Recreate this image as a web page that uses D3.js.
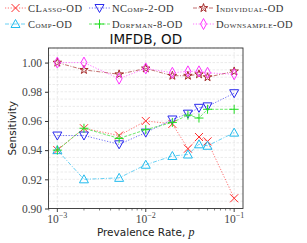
<!DOCTYPE html>
<meta charset="utf-8">
<style>
body { margin: 0; background: #fff; }
.grid line { stroke: #ddd; stroke-width: 0.6; stroke-dasharray: 2.5,1.5; }
.axis text { font-family: "Liberation Serif", serif; font-size: 11.5px; fill: #444; }
.axis path, .axis line { stroke: #333; }
.leg text { font-family: "Liberation Serif", serif; font-size: 10.5px; font-variant: small-caps; letter-spacing: 0.5px; fill: #333; }
</style>
<body>
<script src="https://d3js.org/d3.v7.min.js"></script>
<script>

var width = 307,
    height = 243;

// prevalence rates
var rates = [0.001, 0.002, 0.005, 0.01, 0.02, 0.03, 0.04, 0.05, 0.1];

// sensitivity per method
var classo     = [0.940, 0.955, 0.950, 0.960, 0.958, 0.941, 0.949, 0.946, 0.907];
var ncomp2     = [0.950, 0.950, 0.944, 0.952, 0.961, 0.965, 0.969, 0.970, 0.979];
var individual = [1.000, 0.995, 0.992, 0.996, 0.991, 0.991, 0.992, 0.990, 0.994];
var comp       = [0.940, 0.920, 0.921, 0.930, 0.936, 0.937, 0.944, 0.943, 0.952];
var dorfman8   = [0.940, 0.955, 0.948, 0.954, 0.959, 0.964, 0.962, 0.968, 0.968];
var downsample = [1.000, 1.000, 0.989, 0.996, 0.993, 0.994, 0.994, 0.993, 0.992];

var yTicks = [0.90, 0.92, 0.94, 0.96, 0.98, 1.00];
var xTickExp = [-3, -2, -1];

var series = [
    {name: "CLasso-OD", values: classo, color: "#ff2a2a", dash: "1.2,1.6", marker: "x"},
    {name: "NComp-2-OD", values: ncomp2, color: "#2a2aee", dash: "1.2,1.6", marker: "v"},
    {name: "Individual-OD", values: individual, color: "#a52a2a", dash: "4,1.5,1,1.5", marker: "star"},
    {name: "Comp-OD", values: comp, color: "#22bbee", dash: "4,1.5,1,1.5", marker: "^"},
    {name: "Dorfman-8-OD", values: dorfman8, color: "#22dd22", dash: "3,1.5", marker: "+"},
    {name: "Downsample-OD", values: downsample, color: "#ff33ff", dash: "1.2,1.6", marker: "d"}
];

var m = {left: 48.5, right: 243, top: 48, bottom: 208.5};

var x = d3.scaleLog().domain([Math.pow(10, -3.1), Math.pow(10, -0.9)]).range([m.left, m.right]);
var y = d3.scaleLinear().domain([0.90, 1.01]).range([m.bottom, m.top]);

var svg = d3.select("body").append("svg")
    .attr("width", width)
    .attr("height", height);

// grid
var grid = svg.append("g").attr("class", "grid");
grid.selectAll(".hy")
    .data(d3.range(0, 23).map(function(i) { return 0.90 + i * 0.005; }))
    .enter().append("line")
    .attr("x1", m.left).attr("x2", m.right)
    .attr("y1", function(d) { return y(d); })
    .attr("y2", function(d) { return y(d); });
grid.selectAll(".vx")
    .data(xTickExp)
    .enter().append("line")
    .attr("x1", function(d) { return x(Math.pow(10, d)); })
    .attr("x2", function(d) { return x(Math.pow(10, d)); })
    .attr("y1", m.top).attr("y2", m.bottom);

// marker shapes
function markerPath(type) {
    if (type === "x") return "M-4,-4L4,4M-4,4L4,-4";
    if (type === "+") return "M-4.5,0L4.5,0M0,-4.5L0,4.5";
    if (type === "v") return "M-4.5,-3.5L4.5,-3.5L0,4.5Z";
    if (type === "^") return "M-4.5,3.5L4.5,3.5L0,-4.5Z";
    if (type === "d") return "M0,-5.5L3,0L0,5.5L-3,0Z";
    if (type === "star") return d3.symbol().type(d3.symbolStar).size(22)();
}

var line = d3.line()
    .x(function(d) { return x(d[0]); })
    .y(function(d) { return y(d[1]); });

series.forEach(function(s) {
    var pts = rates.map(function(r, i) { return [r, s.values[i]]; });
    var g = svg.append("g");
    g.append("path")
        .attr("d", line(pts))
        .attr("fill", "none")
        .attr("stroke", s.color)
        .attr("stroke-opacity", 0.75)
        .attr("stroke-width", 0.9)
        .attr("stroke-dasharray", s.dash);
    g.selectAll("path.mk")
        .data(pts)
        .enter().append("path")
        .attr("class", "mk")
        .attr("transform", function(d) { return "translate(" + x(d[0]) + "," + y(d[1]) + ")"; })
        .attr("d", markerPath(s.marker))
        .attr("fill", "none")
        .attr("stroke", s.color)
        .attr("stroke-width", 1);
});

// frame
svg.append("rect")
    .attr("x", m.left).attr("y", m.top)
    .attr("width", m.right - m.left).attr("height", m.bottom - m.top)
    .attr("fill", "none").attr("stroke", "#333").attr("stroke-width", 0.9);

// y axis
var yAxis = svg.append("g").attr("class", "axis")
    .attr("transform", "translate(" + m.left + ",0)")
    .call(d3.axisLeft(y).tickValues(yTicks).tickSize(3.5).tickPadding(3).tickFormat(d3.format(".2f")));
yAxis.select(".domain").remove();

// x axis with minor ticks
var minor = [];
[-3, -2].forEach(function(e) {
    for (var k = 2; k <= 9; k++) minor.push(k * Math.pow(10, e));
});
minor.push(Math.pow(10, -3) * 0.8);
var xg = svg.append("g").attr("class", "axis")
    .attr("transform", "translate(0," + m.bottom + ")");
xg.selectAll(".mn").data(minor).enter().append("line")
    .attr("x1", function(d) { return x(d); }).attr("x2", function(d) { return x(d); })
    .attr("y1", 0).attr("y2", 2).attr("stroke", "#333").attr("stroke-width", 0.6);
var mj = xg.selectAll(".mj").data(xTickExp).enter().append("g")
    .attr("transform", function(d) { return "translate(" + x(Math.pow(10, d)) + ",0)"; });
mj.append("line").attr("y1", 0).attr("y2", 3.5).attr("stroke", "#333").attr("stroke-width", 0.9);
var tx = mj.append("text").attr("y", 14).attr("text-anchor", "middle");
tx.append("tspan").text("10");
tx.append("tspan").attr("dy", -4.5).attr("font-size", "8px").text(function(d) { return "\u2212" + Math.abs(d); });

// labels
svg.append("text")
    .attr("x", (m.left + m.right) / 2).attr("y", 44)
    .attr("text-anchor", "middle")
    .style("font-family", "DejaVu Sans, sans-serif").style("font-size", "13.5px").attr("fill", "#111")
    .text("IMFDB, OD");

svg.append("text")
    .attr("transform", "translate(16," + ((m.top + m.bottom) / 2) + ") rotate(-90)")
    .attr("text-anchor", "middle")
    .style("font-family", "DejaVu Sans, sans-serif").style("font-size", "10.5px").attr("fill", "#222")
    .text("Sensitivity");

var xl = svg.append("text")
    .attr("x", (m.left + m.right) / 2).attr("y", 236)
    .attr("text-anchor", "middle")
    .style("font-family", "DejaVu Sans, sans-serif").style("font-size", "10.5px").attr("fill", "#222");
xl.append("tspan").text("Prevalence Rate, ");
xl.append("tspan").style("font-family", "Liberation Serif, serif").style("font-style", "italic").style("font-size", "12px").text("p");

// legend
var legPos = [[5, 8], [89, 8], [193, 8], [5, 24], [89, 24], [193, 24]];
var leg = svg.append("g").attr("class", "leg");
series.forEach(function(s, i) {
    var p = legPos[i];
    var g = leg.append("g").attr("transform", "translate(" + p[0] + "," + p[1] + ")");
    g.append("line").attr("x1", 0).attr("x2", 21)
        .attr("stroke", s.color).attr("stroke-opacity", 0.75).attr("stroke-width", 0.9)
        .attr("stroke-dasharray", s.dash);
    g.append("path").attr("transform", "translate(10.5,0)")
        .attr("d", markerPath(s.marker)).attr("fill", "none")
        .attr("stroke", s.color).attr("stroke-width", 1);
    g.append("text").attr("x", 23).attr("y", 3.6).text(s.name);
});

</script>
</body>
